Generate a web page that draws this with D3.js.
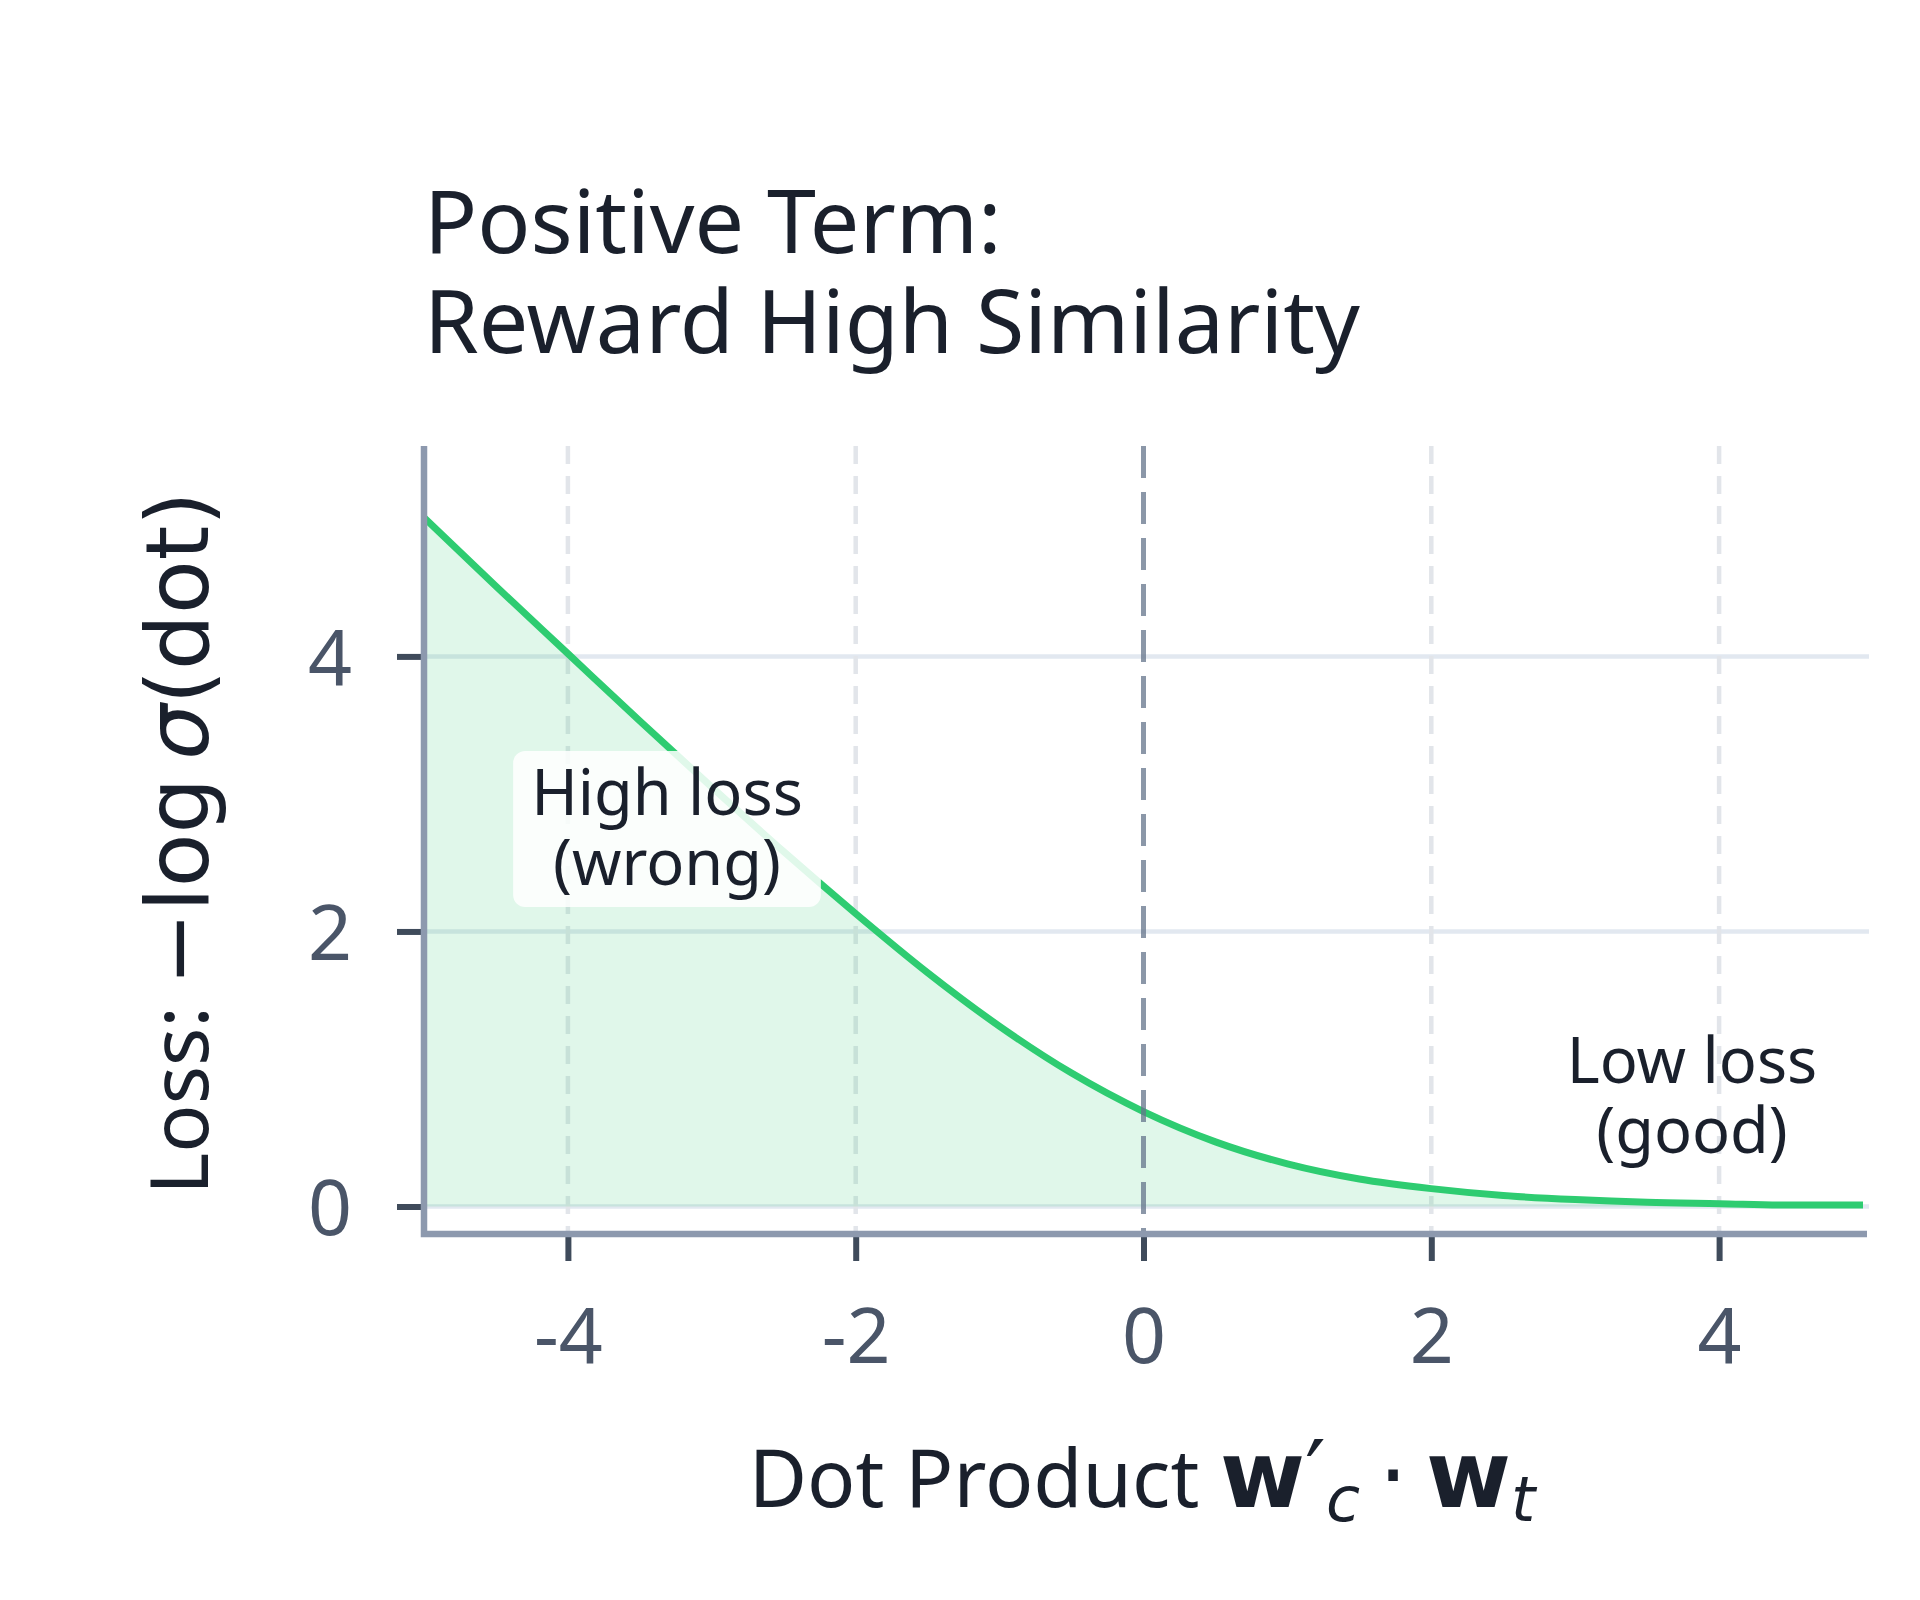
<!DOCTYPE html>
<html>
<head>
<meta charset="utf-8">
<script src="https://cdn.jsdelivr.net/npm/d3@7"></script>
<style>
  body { margin: 0; background: #ffffff; }
  svg { display: block; }
</style>
</head>
<body>
<div id="chart"></div>
<script>
// values
var dotValues  = [-5, -4.5, -4, -3.5, -3, -2.5, -2, -1.5, -1, -0.5, 0, 0.5, 1, 1.5, 2, 2.5, 3, 3.5, 4, 4.5, 5];
var lossValues = [5.01, 4.51, 4.02, 3.53, 3.05, 2.58, 2.13, 1.70, 1.31, 0.97, 0.69, 0.47, 0.31, 0.20, 0.13, 0.08, 0.05, 0.03, 0.02, 0.01, 0.01];
var xTicks = [-4, -2, 0, 2, 4];
var xTickLabels = ["-4", "-2", "0", "2", "4"];
var yTicks = [0, 2, 4];
var yTickLabels = ["0", "2", "4"];
var titleLines = ["Positive Term:", "Reward High Similarity"];
var highLines = ["High loss", "(wrong)"];
var lowLines = ["Low loss", "(good)"];

var W = 1920, H = 1600;
var font = "'Noto Sans', 'Open Sans', sans-serif";
var mathFont = "'DejaVu Sans', sans-serif";

var svg = d3.select("#chart")
    .append("svg")
        .attr("width", W)
        .attr("height", H)
        .style("background", "#ffffff");

var data = dotValues.map(function(d, i){ return {x: d, y: lossValues[i]}; });

//scales
var x = d3.scaleLinear().domain([-5, 5]).range([424, 1863]);
var y = d3.scaleLinear().domain([-0.2, 5.53]).range([1234, 446]);

//horizontal grid (solid)
svg.append("g")
    .selectAll("line")
    .data(yTicks)
    .join("line")
        .attr("x1", x(-5))
        .attr("x2", x(5) + 6)
        .attr("y1", d => y(d))
        .attr("y2", d => y(d))
        .style("stroke", "#e2e8f0")
        .style("stroke-width", 4.5);

//vertical grid (dashed)
svg.append("g")
    .selectAll("line")
    .data(xTicks.filter(d => d !== 0))
    .join("line")
        .attr("x1", d => x(d))
        .attr("x2", d => x(d))
        .attr("y1", y(5.53))
        .attr("y2", y(-0.2))
        .style("stroke", "#e2e5ea")
        .style("stroke-width", 4.5)
        .style("stroke-dasharray", "18,12");

//area under curve
var area = d3.area()
    .x(d => x(d.x))
    .y0(y(0))
    .y1(d => y(d.y))
    .curve(d3.curveMonotoneX);
svg.append("path")
    .datum(data)
    .attr("d", area)
    .style("fill", "#2ecc71")
    .style("fill-opacity", 0.15);

//the loss curve
var line = d3.line()
    .x(d => x(d.x))
    .y(d => y(d.y))
    .curve(d3.curveMonotoneX);
svg.append("path")
    .datum(data)
    .attr("d", line)
    .style("fill", "none")
    .style("stroke", "#2ecc71")
    .style("stroke-width", 7);

//zero line
svg.append("line")
    .attr("x1", x(0))
    .attr("x2", x(0))
    .attr("y1", y(5.53))
    .attr("y2", y(-0.2))
    .style("stroke", "#64748b")
    .style("stroke-opacity", 0.75)
    .style("stroke-width", 5)
    .style("stroke-dasharray", "32,14");

//axes
var xAxis = svg.append("g")
    .attr("transform", "translate(0," + y(-0.2) + ")")
    .call(d3.axisBottom(x)
        .tickValues(xTicks)
        .tickFormat((d, i) => xTickLabels[i])
        .tickSize(27)
        .tickPadding(47));
var yAxis = svg.append("g")
    .attr("transform", "translate(" + x(-5) + ",0)")
    .call(d3.axisLeft(y)
        .tickValues(yTicks)
        .tickFormat((d, i) => yTickLabels[i])
        .tickSize(27)
        .tickPadding(45));
[xAxis, yAxis].forEach(function(g){
    g.select(".domain").remove();
    g.selectAll(".tick line")
        .style("stroke", "#3f4b5b")
        .style("stroke-width", 6);
    g.selectAll(".tick text")
        .style("fill", "#4a5568")
        .style("font-family", font)
        .style("font-size", "77px");
});
yAxis.selectAll(".tick text").attr("dy", "0.36em");

//spines
svg.append("path")
    .attr("d", "M" + x(-5) + "," + y(5.53) + "V" + y(-0.2) + "H" + (x(5) + 4))
    .style("fill", "none")
    .style("stroke", "#8d99ae")
    .style("stroke-width", 6.5);

//title
svg.append("text")
    .attr("x", 424)
    .attr("y", 253)
    .style("font-family", font)
    .style("font-size", "88px")
    .style("fill", "#1a202c")
    .selectAll("tspan")
    .data(titleLines)
    .join("tspan")
        .attr("x", 424)
        .attr("dy", (d, i) => i === 0 ? 0 : 100)
        .text(d => d);

//annotations
function note(lines, cx, baseY, withBox) {
    var g = svg.append("g");
    var box = g.append("rect");
    var t = g.append("text")
        .attr("text-anchor", "middle")
        .style("font-family", font)
        .style("font-size", "63px")
        .style("fill", "#1a202c");
    t.selectAll("tspan")
        .data(lines)
        .join("tspan")
            .attr("x", cx)
            .attr("y", (d, i) => baseY + i * 70)
            .text(d => d);
    if (withBox) {
        var bb = t.node().getBBox();
        box.attr("x", bb.x - 18)
            .attr("y", baseY - 64)
            .attr("width", bb.width + 36)
            .attr("height", 70 + 86)
            .attr("rx", 12)
            .style("fill", "#ffffff")
            .style("fill-opacity", 0.85);
    }
}
note(highLines, 667, 815, true);
note(lowLines, 1692, 1083, false);

//y label
var yl = svg.append("text")
    .attr("transform", "translate(208," + 843 + ") rotate(-90)")
    .attr("text-anchor", "middle")
    .style("font-size", "80px")
    .style("fill", "#1a202c");
yl.append("tspan").style("font-family", font).text("Loss: ");
yl.append("tspan").style("font-family", mathFont).style("font-size", "88px").text("\u2212log\u2009");
yl.append("tspan").style("font-family", mathFont).style("font-size", "88px").style("font-style", "italic").text("\u03c3");
yl.append("tspan").style("font-family", mathFont).style("font-size", "88px").text("(dot)");

//x label
var xl = svg.append("text")
    .attr("x", 1142)
    .attr("y", 1507)
    .attr("text-anchor", "middle")
    .style("font-size", "80px")
    .style("fill", "#1a202c");
xl.append("tspan").style("font-family", font).text("Dot Product ");
xl.append("tspan").style("font-family", mathFont).style("font-size", "92px").style("font-weight", "bold").text("w");
xl.append("tspan").style("font-family", mathFont).style("font-size", "92px").text("\u2032");
xl.append("tspan").style("font-family", mathFont).style("font-style", "italic")
    .style("font-size", "62px").attr("dy", 14).text("c");
xl.append("tspan").style("font-family", mathFont).style("font-size", "92px").attr("dy", -14).text("\u2009\u00b7\u2009");
xl.append("tspan").style("font-family", mathFont).style("font-size", "92px").style("font-weight", "bold").text("w");
xl.append("tspan").style("font-family", mathFont).style("font-style", "italic")
    .style("font-size", "62px").attr("dy", 14).text("t");
</script>
</body>
</html>
